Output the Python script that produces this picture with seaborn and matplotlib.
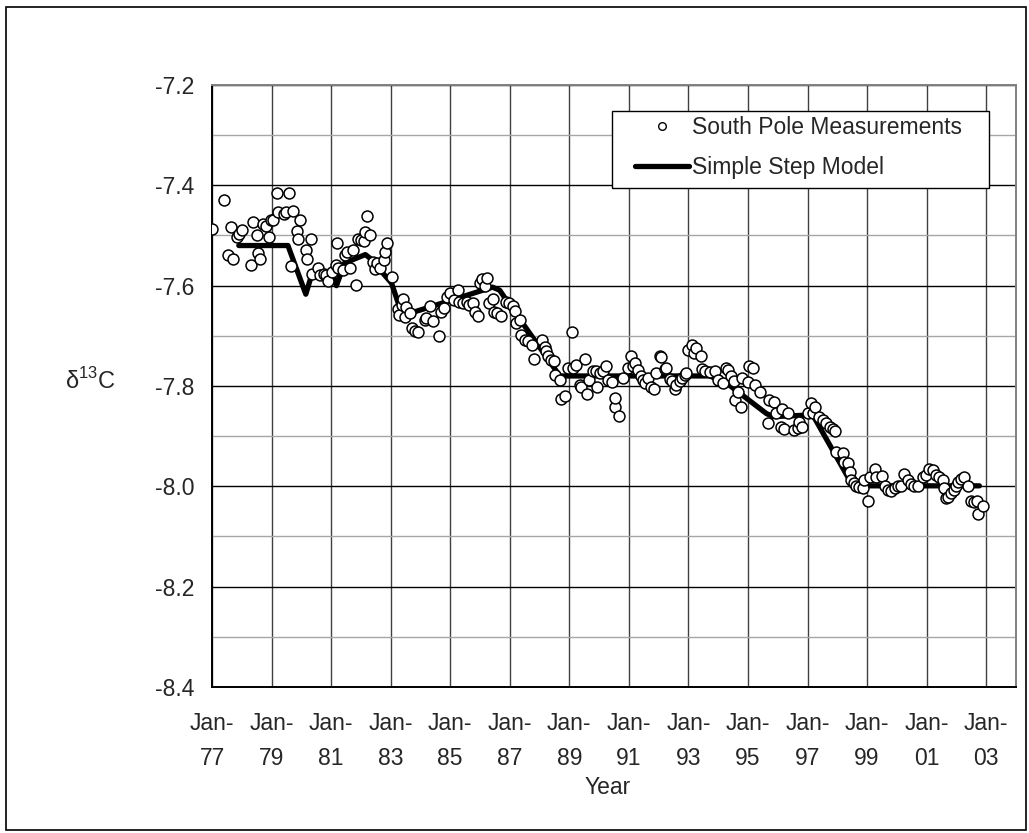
import numpy as np
import pandas as pd
import seaborn as sns
import matplotlib
matplotlib.use("Agg")
import matplotlib.pyplot as plt
from matplotlib.lines import Line2D
from matplotlib.patches import Rectangle
from matplotlib.ticker import MultipleLocator

# South Pole d13C measurements (decimal year, per mil)
meas_year = [
    1977.00, 1977.40, 1977.55, 1977.64, 1977.70, 1977.85, 1977.90, 1978.00, 1978.30, 1978.39,
    1978.50, 1978.55, 1978.62, 1978.72, 1978.80, 1978.92, 1978.97, 1979.06, 1979.17, 1979.22,
    1979.43, 1979.47, 1979.60, 1979.65, 1979.72, 1979.84, 1979.90, 1979.96, 1980.14, 1980.20,
    1980.32, 1980.37, 1980.57, 1980.63, 1980.75, 1980.84, 1980.90, 1981.04, 1981.15, 1981.20,
    1981.24, 1981.40, 1981.46, 1981.53, 1981.65, 1981.73, 1981.84, 1981.90, 1981.99, 1982.10,
    1982.13, 1982.21, 1982.30, 1982.39, 1982.47, 1982.55, 1982.64, 1982.77, 1982.80, 1982.87,
    1983.06, 1983.23, 1983.29, 1983.37, 1983.40, 1983.48, 1983.53, 1983.64, 1983.70, 1983.81,
    1983.92, 1984.15, 1984.20, 1984.33, 1984.43, 1984.63, 1984.70, 1984.80, 1984.88, 1985.00,
    1985.12, 1985.27, 1985.30, 1985.43, 1985.55, 1985.63, 1985.75, 1985.83, 1985.94, 1986.00,
    1986.08, 1986.16, 1986.24, 1986.30, 1986.42, 1986.46, 1986.57, 1986.72, 1986.87, 1986.98,
    1987.11, 1987.17, 1987.22, 1987.35, 1987.39, 1987.50, 1987.61, 1987.73, 1987.82, 1988.07,
    1988.17, 1988.23, 1988.29, 1988.40, 1988.47, 1988.51, 1988.68, 1988.73, 1988.85, 1988.96,
    1989.10, 1989.12, 1989.24, 1989.35, 1989.40, 1989.52, 1989.60, 1989.66, 1989.80, 1989.91,
    1989.94, 1990.02, 1990.13, 1990.24, 1990.30, 1990.43, 1990.52, 1990.55, 1990.66, 1990.80,
    1990.97, 1991.06, 1991.14, 1991.22, 1991.31, 1991.40, 1991.47, 1991.55, 1991.64, 1991.73,
    1991.84, 1991.92, 1992.03, 1992.08, 1992.20, 1992.26, 1992.37, 1992.45, 1992.54, 1992.59,
    1992.70, 1992.78, 1992.87, 1992.93, 1992.98, 1993.12, 1993.18, 1993.26, 1993.41, 1993.45,
    1993.54, 1993.71, 1993.88, 1993.99, 1994.16, 1994.27, 1994.33, 1994.44, 1994.53, 1994.55,
    1994.66, 1994.75, 1994.81, 1994.99, 1995.03, 1995.17, 1995.25, 1995.41, 1995.67, 1995.69,
    1995.88, 1995.95, 1996.10, 1996.14, 1996.20, 1996.36, 1996.56, 1996.67, 1996.70, 1996.80,
    1997.01, 1997.12, 1997.18, 1997.26, 1997.40, 1997.51, 1997.62, 1997.74, 1997.85, 1997.93,
    1997.96, 1998.18, 1998.22, 1998.36, 1998.44, 1998.46, 1998.55, 1998.63, 1998.74, 1998.86,
    1998.91, 1999.02, 1999.11, 1999.27, 1999.30, 1999.49, 1999.60, 1999.70, 1999.81, 1999.92,
    2000.03, 2000.14, 2000.25, 2000.37, 2000.48, 2000.59, 2000.72, 2000.87, 2000.98, 2001.09,
    2001.20, 2001.31, 2001.43, 2001.54, 2001.59, 2001.65, 2001.73, 2001.82, 2001.91, 2001.98,
    2002.06, 2002.16, 2002.27, 2002.38, 2002.49, 2002.60, 2002.69, 2002.74, 2002.88,
]
meas_d13c = [
    -7.488, -7.430, -7.539, -7.484, -7.546, -7.503, -7.497, -7.490, -7.558, -7.474,
    -7.500, -7.535, -7.546, -7.477, -7.482, -7.503, -7.470, -7.469, -7.415, -7.453,
    -7.457, -7.454, -7.415, -7.561, -7.451, -7.492, -7.506, -7.470, -7.529, -7.546,
    -7.506, -7.576, -7.565, -7.579, -7.577, -7.579, -7.591, -7.572, -7.559, -7.514,
    -7.565, -7.569, -7.539, -7.533, -7.565, -7.528, -7.598, -7.506, -7.509, -7.510,
    -7.493, -7.462, -7.500, -7.552, -7.567, -7.555, -7.565, -7.549, -7.532, -7.514,
    -7.583, -7.646, -7.658, -7.638, -7.627, -7.663, -7.642, -7.655, -7.685, -7.690,
    -7.692, -7.668, -7.665, -7.641, -7.670, -7.700, -7.652, -7.645, -7.622, -7.614,
    -7.629, -7.609, -7.632, -7.635, -7.632, -7.639, -7.635, -7.652, -7.660, -7.595,
    -7.587, -7.600, -7.585, -7.635, -7.627, -7.652, -7.655, -7.660, -7.632, -7.634,
    -7.641, -7.650, -7.674, -7.668, -7.698, -7.708, -7.711, -7.718, -7.747, -7.709,
    -7.723, -7.731, -7.741, -7.748, -7.751, -7.778, -7.789, -7.826, -7.820, -7.765,
    -7.692, -7.765, -7.758, -7.798, -7.801, -7.747, -7.816, -7.789, -7.771, -7.771,
    -7.801, -7.775, -7.771, -7.760, -7.789, -7.793, -7.841, -7.824, -7.860, -7.785,
    -7.765, -7.740, -7.761, -7.755, -7.768, -7.781, -7.788, -7.795, -7.785, -7.801,
    -7.805, -7.775, -7.740, -7.743, -7.767, -7.765, -7.787, -7.791, -7.805, -7.798,
    -7.791, -7.785, -7.778, -7.775, -7.728, -7.718, -7.735, -7.725, -7.741, -7.767,
    -7.770, -7.773, -7.770, -7.788, -7.795, -7.765, -7.768, -7.781, -7.791, -7.828,
    -7.811, -7.841, -7.785, -7.793, -7.760, -7.765, -7.798, -7.811, -7.874, -7.828,
    -7.831, -7.854, -7.881, -7.846, -7.886, -7.853, -7.888, -7.884, -7.871, -7.881,
    -7.854, -7.834, -7.854, -7.841, -7.861, -7.868, -7.874, -7.881, -7.886, -7.889,
    -7.931, -7.933, -7.951, -7.954, -7.971, -7.987, -7.994, -7.999, -8.002, -8.004,
    -7.987, -8.030, -7.981, -7.966, -7.981, -7.979, -8.000, -8.007, -8.010, -8.004,
    -7.999, -8.000, -7.976, -7.987, -7.995, -7.999, -8.000, -7.981, -7.977, -7.966,
    -7.967, -7.977, -7.981, -7.987, -8.004, -8.024, -8.021, -8.014, -8.007, -7.999,
    -7.991, -7.986, -7.982, -7.999, -8.030, -8.032, -8.030, -8.055, -8.040,
]

# Simple step model (vertices of the piecewise curve)
model_year = [1977.90, 1979.55, 1980.15, 1980.38, 1981.05, 1981.18, 1981.45, 1982.15,
              1982.30, 1983.03, 1983.30, 1983.65, 1986.42, 1986.66, 1986.90, 1988.68,
              1993.72, 1994.30, 1995.62, 1995.85, 1997.00, 1997.15, 1998.52, 2002.77]
model_d13c = [-7.520, -7.520, -7.617, -7.572, -7.578, -7.600, -7.555, -7.538,
              -7.545, -7.595, -7.643, -7.655, -7.603, -7.609, -7.630, -7.780,
              -7.780, -7.795, -7.855, -7.861, -7.858, -7.855, -7.999, -7.999]

tick_years = list(range(1977, 2004, 2))
tick_labels = [f"Jan-\n{y % 100:02d}" for y in tick_years]
y_ticks = [-7.2, -7.4, -7.6, -7.8, -8.0, -8.2, -8.4]

sns.set_style("white")
plt.rcParams["font.family"] = ["Liberation Sans", "DejaVu Sans"]
plt.rcParams["mathtext.fontset"] = "custom"
plt.rcParams["mathtext.rm"] = "Liberation Sans"
FS = 16.5

W, H = 1029, 833
fig = plt.figure(figsize=(W / 100, H / 100), dpi=100)
ax = fig.add_axes([212 / W, 1 - 687 / H, (1016 - 212) / W, (687 - 85) / H])

meas = pd.DataFrame({"year": meas_year, "d13c": meas_d13c})
model = pd.DataFrame({"year": model_year, "d13c": model_d13c})

sns.lineplot(data=model, x="year", y="d13c", ax=ax, color="black", lw=3.8,
             sort=False, estimator=None, zorder=2.5, legend=False)
sns.scatterplot(data=meas, x="year", y="d13c", ax=ax, marker="o", s=62,
                color="white", edgecolor="black", linewidth=1.1, zorder=3,
                legend=False)

ax.set_xlim(1977, 2004)
ax.set_ylim(-8.4, -7.2)
ax.set_xticks(tick_years)
ax.set_xticklabels(tick_labels, linespacing=1.64, fontsize=FS)
ax.set_yticks(y_ticks)
ax.set_yticklabels([f"{v:.1f}" for v in y_ticks], fontsize=FS)
ax.yaxis.set_minor_locator(MultipleLocator(0.1))
ax.tick_params(axis="both", which="major", direction="out", length=5.5,
               width=1.0, color="black")
ax.tick_params(axis="x", which="major", pad=12.5)
ax.tick_params(axis="y", which="major", pad=7)
ax.tick_params(axis="y", which="minor", length=0)

ax.set_axisbelow(True)
ax.grid(which="major", axis="y", color="black", lw=1.0)
ax.grid(which="minor", axis="y", color="#a6a6a6", lw=1.0)
ax.grid(which="major", axis="x", color="#404040", lw=1.0)

for side in ("left", "bottom"):
    ax.spines[side].set_color("black")
    ax.spines[side].set_linewidth(1.4)
for side in ("top", "right"):
    ax.spines[side].set_color("#808080")
    ax.spines[side].set_linewidth(1.4)

ax.set_xlabel("")
ax.set_ylabel("")

# Legend box (white panel with thin black border) and its entries
ax.add_patch(Rectangle((0.4971, 0.8284), 0.4697, 0.1289, transform=ax.transAxes,
                       facecolor="white", edgecolor="black", lw=1.0, zorder=5))
handles = [
    Line2D([], [], ls="none", marker="o", markersize=5.5, markerfacecolor="white",
           markeredgecolor="black", markeredgewidth=1.0),
    Line2D([], [], color="black", lw=3.8),
]
leg = ax.legend(handles, ["South Pole Measurements", "Simple Step Model"],
                loc="upper left", bbox_to_anchor=(0.5261, 0.9477),
                borderaxespad=0, borderpad=0, fontsize=FS, frameon=False,
                handlelength=2.35, handletextpad=0.15, labelspacing=0.7)
leg.set_zorder(6)

fig.text(608 / W, 1 - 787 / H, "Year", ha="center", va="center", fontsize=FS)
fig.text(90 / W, 1 - 381 / H, r"δ$^{\mathregular{13}}$C", ha="center",
         va="center", fontsize=17)

fig.patches.append(Rectangle((6 / W, 1 - 830 / H), (1026 - 6) / W, (830 - 7) / H,
                             transform=fig.transFigure, fill=False,
                             edgecolor="black", lw=1.2))

fig.savefig("out.png", dpi=100, facecolor="white")
